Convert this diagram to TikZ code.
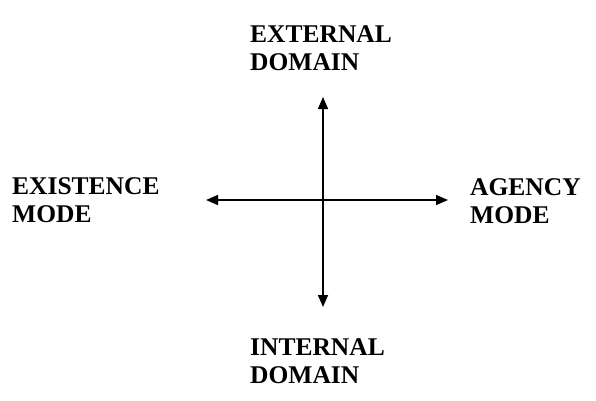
\documentclass[tikz,border=0pt]{standalone}
\usepackage{fontspec}
\setmainfont{Liberation Serif}
\usetikzlibrary{arrows.meta}

\begin{document}
\begin{tikzpicture}[
    x=1pt, y=-1pt,
    label/.style={anchor=base west, align=left, inner sep=0pt, font=\fontsize{25.5}{28}\selectfont\bfseries},
    axis/.style={line width=1.5pt, {Triangle[length=12pt, width=10pt]}-{Triangle[length=12pt, width=10pt]}},
]
\useasboundingbox (0,0) rectangle (596,400);
% label nodes, anchored at the baseline of their last line
\node[label] (external)  at (250, 70)  {EXTERNAL\\DOMAIN};
\node[label] (existence) at (12, 222)  {EXISTENCE\\MODE};
\node[label] (agency)    at (470, 223) {AGENCY\\MODE};
\node[label] (internal)  at (250, 383) {INTERNAL\\DOMAIN};
\coordinate (top)    at (323, 97);
\coordinate (bottom) at (323, 307);
\coordinate (left)   at (206, 200);
\coordinate (right)  at (448, 200);
\draw[axis] (bottom) -- (top);
\draw[axis] (left) -- (right);
\end{tikzpicture}
\end{document}
